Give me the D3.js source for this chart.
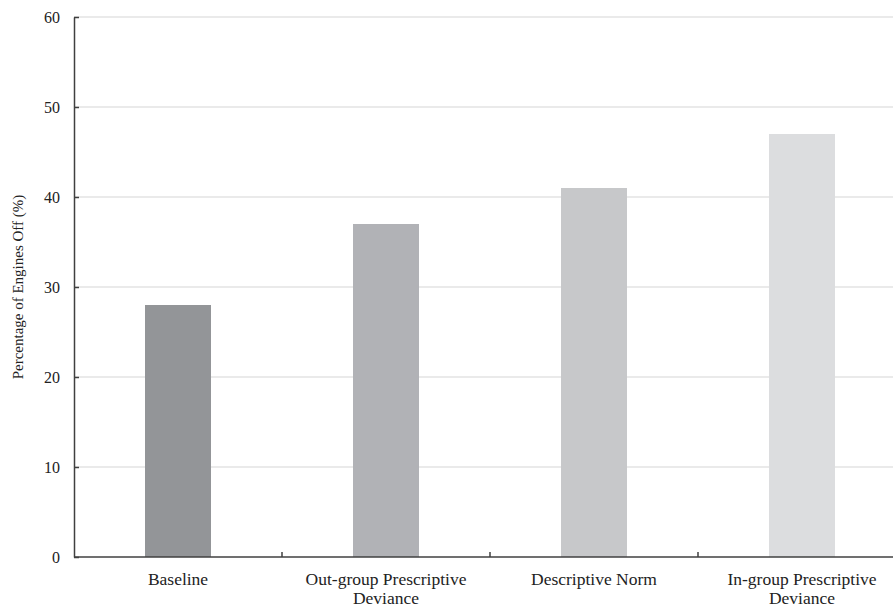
<!DOCTYPE html>
<html><head><meta charset="utf-8">
<script src="https://cdn.jsdelivr.net/npm/d3@7"></script>
<style>body{margin:0;background:#fff}svg{display:block}
svg text{font-family:"Liberation Serif","Times New Roman",serif}</style>
</head><body>
<svg id="c" width="893" height="609"></svg>
<script>
const categories = [["Baseline"], ["Out-group Prescriptive", "Deviance"], ["Descriptive Norm"], ["In-group Prescriptive", "Deviance"]];
const values = [28, 37, 41, 47];
const colors = ["#939598", "#b1b2b6", "#c7c8ca", "#dcdddf"];
const yTicks = [0, 10, 20, 30, 40, 50, 60];
const yLabel = "Percentage of Engines Off (%)";

const svg = d3.select("#c");
const mLeft = 74, mRight = 906, mTop = 17, mBottom = 557;
const x = d3.scaleBand().domain(d3.range(categories.length)).range([mLeft, mRight]).paddingInner(0).paddingOuter(0);
const y = d3.scaleLinear().domain([0, 60]).range([mBottom, mTop]);

// gridlines
svg.append("g").selectAll("line").data(yTicks.filter(d => d > 0)).join("line")
  .attr("x1", mLeft).attr("x2", mRight).attr("y1", d => y(d)).attr("y2", d => y(d))
  .attr("stroke", "#e3e3e3").attr("stroke-width", 1.5);

// bars
const bw = 66;
svg.append("g").selectAll("rect").data(values).join("rect")
  .attr("x", (d, i) => x(i) + x.bandwidth() / 2 - bw / 2)
  .attr("width", bw)
  .attr("y", d => y(d))
  .attr("height", d => y(0) - y(d))
  .attr("fill", (d, i) => colors[i]);

// y axis
const ya = svg.append("g").attr("transform", `translate(${mLeft},0)`)
  .call(d3.axisLeft(y).tickValues(yTicks).tickSizeInner(-5).tickSizeOuter(0).tickPadding(14));
ya.attr("font-family", null);
ya.select(".domain").attr("stroke", "#404040").attr("stroke-width", 1.5);
ya.selectAll(".tick line").attr("stroke", "#404040").attr("stroke-width", 1.5);
ya.selectAll(".tick text").attr("font-size", 16).attr("fill", "#222");

// x axis
const xa = svg.append("g").attr("transform", `translate(0,${mBottom})`);
xa.append("line").attr("x1", mLeft).attr("x2", mRight).attr("stroke", "#404040").attr("stroke-width", 1.5);
xa.selectAll("line.t").data(d3.range(1, categories.length)).join("line").attr("class", "t")
  .attr("x1", d => x(d)).attr("x2", d => x(d)).attr("y1", 0).attr("y2", -5)
  .attr("stroke", "#404040").attr("stroke-width", 1.5);
const lab = xa.selectAll("text").data(categories).join("text")
  .attr("text-anchor", "middle").attr("font-size", 17.5).attr("fill", "#222")
  .attr("transform", (d, i) => `translate(${x(i) + x.bandwidth() / 2},28)`);
lab.selectAll("tspan").data(d => d).join("tspan").attr("x", 0).attr("dy", (d, j) => j === 0 ? 0 : 19).text(d => d);

// y label
svg.append("text").attr("transform", `translate(23,${(mTop + mBottom) / 2}) rotate(-90)`)
  .attr("text-anchor", "middle").attr("font-size", 15).attr("fill", "#222")
  .text(yLabel);
</script>
</body></html>
